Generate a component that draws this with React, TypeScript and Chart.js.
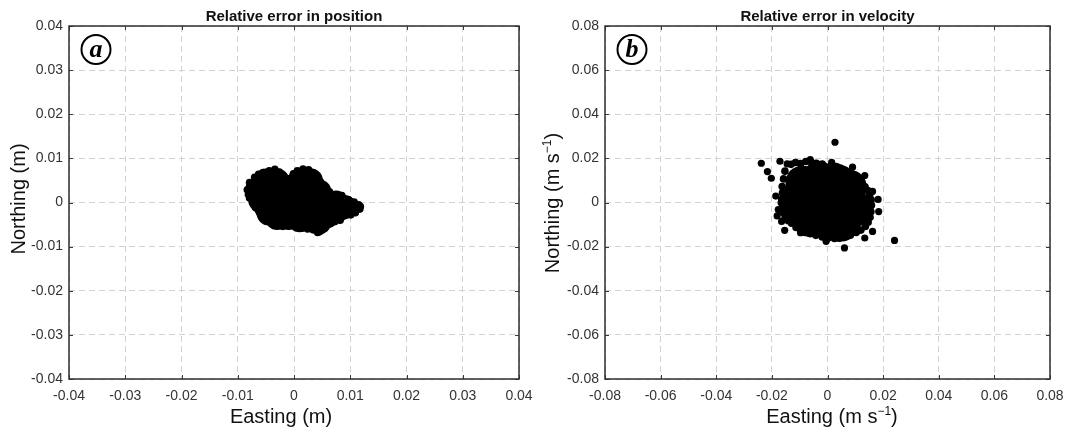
import React, { useEffect, useRef } from "react";
import { Chart, registerables } from "chart.js";

Chart.register(...registerables);

// ---------- tick values / labels ----------
const posTicks = [-0.04, -0.03, -0.02, -0.01, 0, 0.01, 0.02, 0.03, 0.04];
const posTickLabels = ["-0.04", "-0.03", "-0.02", "-0.01", "0", "0.01", "0.02", "0.03", "0.04"];
const velTicks = [-0.08, -0.06, -0.04, -0.02, 0, 0.02, 0.04, 0.06, 0.08];
const velTickLabels = ["-0.08", "-0.06", "-0.04", "-0.02", "0", "0.02", "0.04", "0.06", "0.08"];

// ---------- panel (a): relative error in position (m) ----------
const posEdgeEast = [
  -0.0083, -0.0079, -0.007, -0.0063, -0.0055, -0.0044, -0.0034, -0.0026, -0.0018, -0.0007,
  -0.0001, 0.0006, 0.0016, 0.0026, 0.0034, 0.0041, 0.0047, 0.0053, 0.0063, 0.0077,
  0.0085, 0.0097, 0.0107, 0.0115, 0.0118, 0.0117, 0.0109, 0.0101, 0.009, 0.0082,
  0.0073, 0.0063, 0.0054, 0.0046, 0.0042, 0.0034, 0.0024, 0.0014, 0.0004, -0.0008,
  -0.002, -0.0029, -0.0038, -0.0046, -0.0054, -0.0061, -0.0068, -0.0073, -0.0079, -0.0081,
];
const posEdgeNorth = [
  0.0029, 0.0045, 0.0057, 0.0064, 0.0068, 0.0072, 0.0075, 0.0069, 0.006, 0.0053,
  0.0065, 0.0072, 0.0076, 0.0074, 0.0068, 0.0058, 0.0047, 0.0038, 0.0024, 0.0017,
  0.0016, 0.0006, 0.0001, -0.0005, -0.0009, -0.0015, -0.0023, -0.0028, -0.003, -0.004,
  -0.0043, -0.0049, -0.0059, -0.0066, -0.0068, -0.0062, -0.006, -0.0058, -0.0054, -0.0052,
  -0.0054, -0.0051, -0.0047, -0.004, -0.0033, -0.0023, -0.0012, 0.0002, 0.001, 0.0018,
];
const posCoreEast = [
  -0.0065, -0.006, -0.005, -0.005, -0.005, -0.0045, -0.003, -0.003, -0.003, -0.003,
  -0.001, -0.001, -0.001, -0.001, 0.001, 0.001, 0.001, 0.001, 0.003, 0.003,
  0.003, 0.003, 0.0045, 0.0045, 0.0045, 0.006, 0.006, 0.0075, 0.0075, 0.009,
];
const posCoreNorth = [
  0.003, 0.0005, 0.005, 0.002, -0.001, -0.0025, 0.005, 0.002, -0.001, -0.0035,
  0.0035, 0.001, -0.002, -0.0035, 0.005, 0.002, -0.001, -0.004, 0.005, 0.002,
  -0.001, -0.004, 0.0025, -0.001, -0.0045, 0.0, -0.003, 0.0, -0.002, -0.001,
];

// ---------- panel (b): relative error in velocity (m s-1) ----------
const velEdgeEast = [
  -0.0153, -0.0131, -0.0097, -0.0058, -0.0019, 0.0014, 0.0047, 0.008, 0.0108, 0.0135,
  0.0152, 0.0158, 0.0153, 0.0136, 0.0103, 0.0059, 0.0025, -0.0019, -0.0063, -0.0096,
  -0.0129, -0.0152, -0.0163, -0.0165, -0.0163, -0.0158,
  -0.0115, -0.0078, -0.004, 0.0031, 0.0064, 0.0095, 0.0122, 0.0145, 0.0157, 0.0156,
  0.0146, 0.012, 0.0082, 0.0042, 0.0003, -0.0042, -0.0081, -0.0113, -0.0141, -0.0159,
  -0.0166, -0.0162,
];
const velEdgeNorth = [
  0.0142, 0.0173, 0.0176, 0.0182, 0.0174, 0.0169, 0.0152, 0.0139, 0.0105, 0.0071,
  0.0036, -0.0012, -0.0067, -0.0109, -0.0136, -0.0157, -0.0163, -0.0156, -0.0141, -0.0128,
  -0.0094, -0.0067, -0.0025, 0.0016, 0.0072, 0.0107,
  0.0181, 0.0186, 0.0178, 0.0163, 0.0146, 0.0125, 0.0092, 0.0054, 0.0012, -0.0042,
  -0.0089, -0.0125, -0.0148, -0.0162, -0.0161, -0.0149, -0.0136, -0.0113, -0.0083, -0.0047,
  -0.0001, 0.0044,
];
const velOutEast = [
  0.0027, -0.0238, -0.0216, -0.0202, -0.0171, -0.0186, -0.0177, -0.0181, -0.0165, -0.0154,
  0.0241, 0.0061, 0.0182, 0.0184, 0.0162, 0.0134, 0.009, 0.0162, 0.0134, -0.0005,
  -0.0097, -0.0062, 0.0015, -0.0145,
];
const velOutNorth = [
  0.0273, 0.0178, 0.014, 0.011, 0.0187, 0.0029, -0.0032, -0.0061, -0.0086, -0.0126,
  -0.0172, -0.0206, 0.0014, -0.0041, 0.005, 0.0122, 0.016, -0.0131, -0.0161, -0.0176,
  -0.0137, 0.0194, 0.0182, 0.0175,
];
const velCoreEast = [
  -0.009, -0.003, 0.003, 0.008, -0.01, -0.004, 0.002, 0.008, 0.0105, -0.01,
  -0.004, 0.002, 0.007, -0.006, 0.0, 0.005,
];
const velCoreNorth = [
  0.009, 0.011, 0.01, 0.007, 0.003, 0.004, 0.003, 0.001, -0.003, -0.003,
  -0.003, -0.004, -0.006, -0.008, -0.009, -0.01,
];

// ---------- text ----------
const posTitle = "Relative error in position";
const velTitle = "Relative error in velocity";
type Part = { t: string; sup?: boolean };
const posXLabel: Part[] = [{ t: "Easting (m)" }];
const posYLabel: Part[] = [{ t: "Northing (m)" }];
const velXLabel: Part[] = [{ t: "Easting (m s" }, { t: "\u22121", sup: true }, { t: ")" }];
const velYLabel: Part[] = [{ t: "Northing (m s" }, { t: "\u22121", sup: true }, { t: ")" }];

const FONT = '"Liberation Sans", Arial, Helvetica, sans-serif';

function pts(xs: number[], ys: number[]) {
  return xs.map((x, i) => ({ x, y: ys[i] }));
}

function drawParts(ctx: CanvasRenderingContext2D, parts: Part[], size: number) {
  const supSize = Math.round(size * 0.62);
  let total = 0;
  const widths = parts.map((p) => {
    ctx.font = `${p.sup ? supSize : size}px ${FONT}`;
    const w = ctx.measureText(p.t).width;
    total += w;
    return w;
  });
  let x = -total / 2;
  ctx.textAlign = "left";
  ctx.textBaseline = "alphabetic";
  parts.forEach((p, i) => {
    ctx.font = `${p.sup ? supSize : size}px ${FONT}`;
    ctx.fillText(p.t, x, p.sup ? -size * 0.42 : 0);
    x += widths[i];
  });
}

function makeFrame(cfg: {
  title: string;
  letter: string;
  xLabel: Part[];
  yLabel: Part[];
  xLabelX: number;
  xLabelBase: number;
  yLabelBase: number;
  yLabelY: number;
}) {
  return {
    id: "frame",
    afterDraw(chart: any) {
      const { ctx, chartArea: a, scales } = chart;
      ctx.save();
      // inner tick marks on all four sides
      ctx.strokeStyle = "#3a3a3a";
      ctx.lineWidth = 1;
      ctx.setLineDash([]);
      ctx.beginPath();
      for (const t of scales.x.ticks) {
        const px = Math.round(scales.x.getPixelForValue(t.value)) + 0.5;
        ctx.moveTo(px, a.bottom);
        ctx.lineTo(px, a.bottom - 4);
        ctx.moveTo(px, a.top);
        ctx.lineTo(px, a.top + 4);
      }
      for (const t of scales.y.ticks) {
        const py = Math.round(scales.y.getPixelForValue(t.value)) + 0.5;
        ctx.moveTo(a.left, py);
        ctx.lineTo(a.left + 4, py);
        ctx.moveTo(a.right, py);
        ctx.lineTo(a.right - 4, py);
      }
      ctx.stroke();
      // box
      ctx.strokeStyle = "#2e2e2e";
      ctx.lineWidth = 1.5;
      ctx.strokeRect(a.left, a.top, a.right - a.left, a.bottom - a.top);

      // title
      ctx.fillStyle = "#111";
      ctx.font = `bold 15px ${FONT}`;
      ctx.textAlign = "center";
      ctx.textBaseline = "middle";
      ctx.fillText(cfg.title, (a.left + a.right) / 2, 17);

      // panel letter in circle
      const cx = a.left + 27;
      const cy = a.top + 23.5;
      ctx.beginPath();
      ctx.lineWidth = 2;
      ctx.strokeStyle = "#000";
      ctx.arc(cx, cy, 14.5, 0, Math.PI * 2);
      ctx.stroke();
      ctx.fillStyle = "#000";
      ctx.font = `italic bold 26px "Liberation Serif", "Times New Roman", serif`;
      ctx.textAlign = "center";
      ctx.textBaseline = "alphabetic";
      ctx.fillText(cfg.letter, cx, cy + 7);

      // axis titles
      ctx.fillStyle = "#111";
      ctx.save();
      ctx.translate(cfg.xLabelX, cfg.xLabelBase);
      drawParts(ctx, cfg.xLabel, 20);
      ctx.restore();
      ctx.save();
      ctx.translate(cfg.yLabelBase, cfg.yLabelY);
      ctx.rotate(-Math.PI / 2);
      drawParts(ctx, cfg.yLabel, 20);
      ctx.restore();
      ctx.restore();
    },
  };
}

function axis(min: number, max: number, ticks: number[], labels: string[], fit: (s: any) => void, pad: number) {
  return {
    type: "linear" as const,
    min,
    max,
    afterBuildTicks: (s: any) => {
      s.ticks = ticks.map((v) => ({ value: v }));
    },
    afterFit: fit,
    grid: { color: "#d2d2d2", lineWidth: 1, drawTicks: false },
    border: { display: false, dash: [6, 4] },
    ticks: {
      padding: pad,
      color: "#333",
      font: { family: FONT, size: 14 },
      maxRotation: 0,
      autoSkip: false,
      callback: (_v: any, i: number) => labels[i],
    },
    title: { display: false },
  };
}

function Panel(props: {
  left: number;
  width: number;
  yWidth: number;
  min: number;
  max: number;
  ticks: number[];
  labels: string[];
  datasets: any[];
  frame: any;
}) {
  const ref = useRef<HTMLCanvasElement | null>(null);
  useEffect(() => {
    if (!ref.current) return;
    const chart = new Chart(ref.current, {
      type: "scatter",
      data: { datasets: props.datasets },
      options: {
        animation: false,
        responsive: false,
        devicePixelRatio: 1,
        events: [],
        layout: { padding: { left: 0, right: 14, top: 26, bottom: 0 } },
        plugins: { legend: { display: false }, tooltip: { enabled: false }, title: { display: false } },
        scales: {
          x: axis(props.min, props.max, props.ticks, props.labels, (s: any) => {
            s.height = 49;
            s.paddingLeft = 0;
            s.paddingRight = 0;
          }, 9),
          y: axis(props.min, props.max, props.ticks, props.labels, (s: any) => {
            s.width = props.yWidth;
            s.paddingTop = 0;
            s.paddingBottom = 0;
          }, 6),
        },
      } as any,
      plugins: [props.frame],
    });
    return () => chart.destroy();
  }, []);
  return (
    <canvas
      ref={ref}
      width={props.width}
      height={428}
      style={{ position: "absolute", left: props.left, top: 0, width: props.width, height: 428 }}
    />
  );
}

function ds(data: { x: number; y: number }[], r: number) {
  return {
    data,
    pointRadius: r,
    pointHoverRadius: r,
    pointBackgroundColor: "#000",
    pointBorderColor: "#000",
    pointBorderWidth: 0,
    showLine: false,
  };
}

export default function App() {
  const posSets = [ds(pts(posCoreEast, posCoreNorth), 12), ds(pts(posEdgeEast, posEdgeNorth), 3.8)];
  const velSets = [
    ds(pts(velCoreEast, velCoreNorth), 17),
    ds(pts(velEdgeEast, velEdgeNorth), 3.8),
    ds(pts(velOutEast, velOutNorth), 3.6),
  ];
  const frameA = makeFrame({
    title: posTitle,
    letter: "a",
    xLabel: posXLabel,
    yLabel: posYLabel,
    xLabelX: 281,
    xLabelBase: 423,
    yLabelBase: 25,
    yLabelY: 199,
  });
  const frameB = makeFrame({
    title: velTitle,
    letter: "b",
    xLabel: velXLabel,
    yLabel: velYLabel,
    xLabelX: 832 - 533,
    xLabelBase: 423,
    yLabelBase: 26,
    yLabelY: 203,
  });
  return (
    <div style={{ position: "absolute", left: 0, top: 0, width: 1067, height: 428, background: "#fff", overflow: "hidden" }}>
      <Panel left={0} width={533} yWidth={69} min={-0.04} max={0.04} ticks={posTicks} labels={posTickLabels} datasets={posSets} frame={frameA} />
      <Panel left={533} width={534} yWidth={72} min={-0.08} max={0.08} ticks={velTicks} labels={velTickLabels} datasets={velSets} frame={frameB} />
    </div>
  );
}
